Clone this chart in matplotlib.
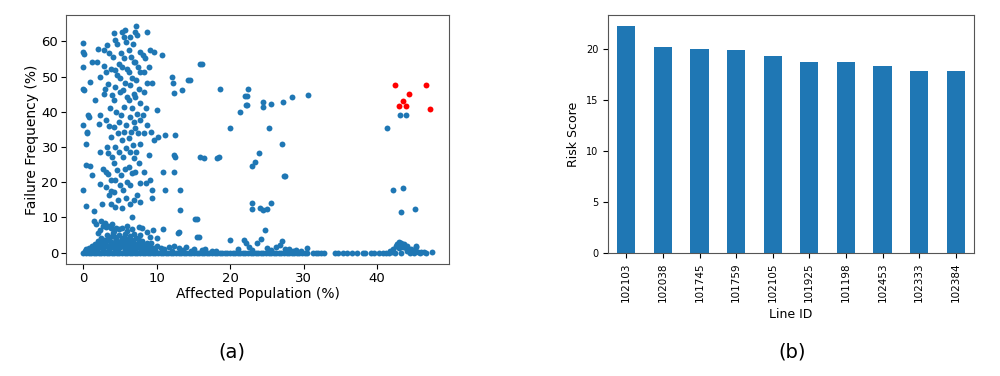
import matplotlib.pyplot as plt

# (a) scatter: affected population (%) vs failure frequency (%)
upper_pts = [
    (0.0, 59.7), (0.0, 56.9), (0.1, 56.5), (0.0, 52.8), (0.0, 46.6), (0.05, 46.1), (0.0, 36.4),
    (0.3, 31.0), (0.3, 25.0), (0.0, 17.8), (0.4, 13.3), (0.6, 39.0), (0.7, 38.5), (0.5, 34.3),
    (0.95, 24.5), (0.5, 34.0),
    (1.2, 54.1), (0.95, 48.5), (1.6, 43.3), (1.2, 22.0), (1.5, 11.8), (1.8, 54.2),
    (1.95, 57.9), (2.3, 50.0), (2.2, 39.0), (2.1, 36.5), (2.3, 28.7), (2.6, 23.9), (2.3, 19.5),
    (2.5, 13.8), (2.8, 57.7), (2.85, 53.0), (2.8, 45.2), (3.0, 46.5),
    (3.2, 58.9), (3.45, 56.8), (3.7, 52.3), (3.1, 51.4), (3.3, 48.0), (3.9, 44.7), (3.6, 41.0),
    (3.1, 37.7), (3.45, 36.0), (3.7, 32.9), (3.2, 30.0), (3.3, 28.2), (3.9, 27.2), (3.1, 22.8),
    (3.7, 20.6), (3.1, 18.7), (3.5, 16.4), (3.3, 22.4), (3.8, 17.4), (3.75, 13.8),
    (4.1, 62.3), (4.35, 60.4), (4.6, 59.4), (4.0, 55.6), (4.8, 53.7), (4.35, 51.8), (4.6, 50.4),
    (4.35, 47.1), (4.95, 45.7), (4.1, 43.3), (4.5, 40.0), (4.8, 37.2), (4.2, 35.8), (4.65, 33.9),
    (4.35, 30.1), (4.8, 28.7), (4.1, 25.4), (4.6, 23.5), (4.35, 20.6), (4.95, 19.2), (4.1, 17.3),
    (4.65, 14.9), (4.35, 13.1),
    (5.25, 62.7), (5.7, 63.2), (5.5, 61.3), (5.85, 59.9), (5.1, 56.6), (5.55, 55.2), (5.3, 52.8),
    (5.95, 52.3), (5.0, 49.5), (5.7, 48.1), (5.4, 46.2), (5.95, 44.3), (5.55, 41.4), (5.1, 39.1),
    (5.85, 36.2), (5.5, 34.3), (5.25, 32.0), (5.85, 29.6), (5.4, 27.2), (5.7, 23.9), (5.1, 22.0),
    (5.95, 20.2), (5.4, 17.8), (5.85, 15.4), (5.25, 12.6),
    (6.3, 61.3), (6.75, 59.4), (6.15, 57.5), (6.5, 55.6), (6.85, 54.2), (6.2, 51.4), (6.65, 49.5),
    (6.4, 47.6), (6.85, 45.2), (6.15, 43.3), (6.6, 41.0), (6.3, 38.6), (6.85, 37.2), (6.5, 34.3),
    (6.2, 32.5), (6.75, 30.6), (6.4, 28.7), (6.85, 26.8), (6.2, 24.4), (6.65, 22.5), (6.4, 19.2),
    (6.85, 14.9), (6.3, 13.8), (6.6, 10.2),
    (7.1, 64.3), (7.05, 62.7), (7.3, 61.8), (7.65, 57.0), (7.05, 54.2), (7.4, 52.8), (7.75, 51.4),
    (7.2, 49.0), (7.5, 46.6), (7.05, 44.3), (7.75, 42.4), (7.3, 39.5), (7.65, 37.7), (7.05, 35.3),
    (7.4, 33.9), (7.75, 31.0), (7.2, 28.7), (7.5, 25.4), (7.05, 23.0), (7.75, 19.7), (7.3, 16.4),
    (7.65, 14.5),
    (8.65, 62.7), (8.1, 56.1), (8.4, 55.2), (8.9, 52.8), (8.2, 51.4), (8.65, 48.1), (8.2, 45.7),
    (8.55, 41.0), (8.1, 39.1), (8.65, 36.2), (8.3, 33.9), (8.9, 27.7), (8.2, 23.0), (8.55, 19.7),
    (9.1, 57.5), (9.55, 57.0), (9.3, 48.1), (9.2, 34.3), (9.55, 32.0), (9.0, 20.6), (9.3, 17.8),
    (9.3, 15.4),
    (10.0, 40.5), (10.7, 56.1), (10.2, 32.9), (11.1, 33.4), (10.9, 23.0), (11.1, 17.8), (12.0, 50.0),
    (12.2, 48.1), (12.3, 45.4), (12.3, 27.7), (12.5, 27.2), (12.3, 23.0),
    (12.5, 33.4), (13.2, 17.8), (13.2, 12.1), (13.4, 46.2), (14.3, 49.0), (14.5, 49.0), (12.95, 6.0),
    (15.9, 53.5), (16.1, 53.5), (15.9, 27.2), (16.4, 26.8), (15.2, 9.7), (15.4, 9.7), (15.4, 4.5),
    (15.8, 4.5),
    (18.4, 27.2), (18.2, 27.0), (18.6, 46.6), (20.0, 35.3), (19.9, 3.6),
    (21.3, 39.9), (22.0, 44.5), (22.3, 44.5), (22.15, 41.9), (22.3, 41.9), (22.45, 46.4),
    (22.9, 24.7), (23.4, 25.8), (23.95, 28.2), (22.9, 14.2), (22.9, 12.3), (24.05, 12.6),
    (24.5, 12.1), (24.7, 6.4), (24.5, 41.4), (24.5, 42.9), (25.3, 35.3),
    (24.95, 12.3), (25.6, 42.2), (25.6, 14.0), (27.2, 42.9), (27.1, 31.0), (27.3, 21.8),
    (27.5, 21.8), (28.4, 44.3), (30.6, 44.7),
    (41.3, 35.3), (42.2, 17.8), (43.45, 18.4), (43.3, 11.6), (45.1, 12.3), (43.1, 39.1),
    (43.9, 39.1), (45.3, 1.7),
]

low_pts = [
    (0.2, 0.5), (0.4, 1.0), (0.6, 0.3), (0.8, 1.2), (1.0, 0.6), (1.2, 1.8), (1.4, 0.9), (1.6, 2.5),
    (1.8, 1.3), (2.0, 3.2), (2.2, 2.0), (2.4, 4.1), (2.6, 1.5), (2.8, 3.6), (3.0, 2.4), (3.2, 5.1),
    (3.4, 1.8), (3.6, 4.4), (3.8, 2.9), (4.0, 5.6), (4.2, 1.2), (4.4, 3.8), (4.6, 2.2), (4.8, 4.9),
    (5.0, 1.6), (5.2, 3.3), (5.4, 2.6), (5.6, 5.3), (5.8, 1.4), (6.0, 3.9), (6.2, 2.1), (6.4, 4.6),
    (6.6, 1.1), (6.8, 3.1), (7.0, 2.4), (7.2, 4.2), (7.4, 1.7), (7.6, 2.8), (7.8, 0.9), (8.0, 3.4),
    (8.2, 1.5), (8.4, 2.2), (8.6, 0.7), (8.8, 1.8), (9.0, 1.1), (9.2, 2.6), (9.4, 0.6), (9.6, 1.4),
    (9.8, 0.8), (10.0, 1.9),
    (1.1, 0.4), (1.5, 1.5), (1.9, 0.8), (2.3, 2.8), (2.7, 0.9), (3.1, 3.4), (3.5, 1.1), (3.9, 2.0),
    (4.3, 4.5), (4.7, 0.8), (5.1, 2.7), (5.5, 4.1), (5.9, 2.5), (6.3, 0.9), (6.7, 2.9), (7.1, 1.2),
    (7.5, 3.5), (7.9, 2.0), (8.3, 0.5), (8.7, 2.7), (9.1, 1.6), (9.5, 0.4), (2.5, 1.2), (3.3, 0.6),
    (4.1, 2.6), (4.9, 3.1), (5.7, 0.7), (6.5, 2.4),
    (1.3, 1.1), (1.7, 0.6), (2.1, 1.6), (2.9, 1.9), (3.7, 3.0), (4.5, 1.4), (5.3, 1.9), (6.1, 1.5),
    (6.9, 1.8), (7.7, 1.3), (8.5, 1.2), (9.3, 0.9), (3.6, 2.2), (4.4, 2.3), (5.2, 4.3), (6.0, 2.9),
    (2.6, 2.9), (3.4, 3.9), (4.6, 3.3), (5.8, 3.6), (6.6, 3.7), (7.3, 2.5), (8.1, 2.4), (8.9, 1.4),
    (1.5, 9.0), (1.7, 8.2), (2.4, 8.9), (2.6, 7.7), (2.9, 8.4), (3.1, 7.3), (3.4, 7.5), (3.7, 6.9),
    (2.2, 6.5), (4.5, 6.9), (4.9, 6.6), (5.3, 7.0), (6.0, 6.2), (6.6, 6.8), (7.5, 7.3), (8.0, 7.1),
    (8.6, 6.0), (9.0, 4.4), (9.5, 6.4), (10.0, 4.1), (3.9, 8.0), (4.2, 6.2), (5.9, 7.6), (2.0, 5.6),
    (6.9, 5.4), (7.7, 5.0),
    (10.5, 1.4), (10.8, 6.6), (11.0, 0.9), (11.6, 1.6), (12.0, 0.6), (12.4, 1.9), (12.9, 5.5),
    (13.0, 1.2), (13.5, 0.8), (14.0, 1.5), (14.6, 0.5), (15.0, 1.1), (16.2, 0.7), (16.6, 1.0),
    (17.5, 0.4), (18.0, 0.6), (21.0, 1.0), (21.9, 3.6), (22.2, 2.6), (22.6, 1.5), (23.0, 0.8),
    (23.6, 2.7), (24.2, 3.9), (25.0, 1.2), (25.6, 0.8), (26.2, 1.5), (26.8, 2.2), (27.1, 3.4),
    (27.5, 0.9), (28.0, 1.1), (28.5, 0.5), (29.0, 0.7), (30.4, 1.2), (29.6, 0.4),
    (41.8, 0.5), (42.2, 1.0), (42.5, 1.8), (42.7, 2.5), (42.9, 3.0), (43.1, 2.2), (43.3, 2.8),
    (43.5, 1.6), (43.7, 2.4), (43.9, 1.2), (44.1, 1.8), (44.3, 0.9), (44.6, 1.1), (45.0, 0.6),
    (45.3, 2.0), (42.0, 0.3), (43.0, 1.4), (44.0, 0.5), (44.8, 0.4), (45.6, 0.3), (46.0, 0.2),
    (46.4, 0.1), (47.4, 0.1),
]

# lines that never failed (failure frequency 0)
zero_pop = [
    0.0, 0.35, 0.7, 1.05, 1.4, 1.75, 2.1, 2.45, 2.8, 3.15, 3.5, 3.85, 4.2, 4.55, 4.9, 5.25, 5.6,
    5.95, 6.3, 6.65, 7.0, 7.35, 7.7, 8.05, 8.4, 8.75, 9.1, 9.45, 9.8, 10.15, 10.5, 10.85, 11.2,
    11.55, 11.9, 12.25, 12.6, 12.95, 13.3, 13.65, 14.0, 14.35, 14.7, 15.05, 15.4, 15.75, 16.1,
    16.45, 16.8, 17.15, 17.5, 17.85, 18.2, 18.55, 18.9, 19.25, 19.6, 19.95, 20.3, 20.65, 21.0,
    21.35, 21.7, 22.05, 22.4, 22.75, 23.1, 23.45, 23.8, 24.15, 24.5, 24.85, 25.2, 25.55, 25.9,
    26.25, 26.6, 26.95, 27.3, 27.65, 28.0, 28.35, 28.7, 29.05, 29.4, 29.75, 30.1, 30.5, 31.3,
    31.6, 32.0, 32.3, 32.7, 34.2, 34.6, 35.4, 35.9, 36.5, 37.3, 38.0, 38.4, 39.2, 39.6, 40.2,
    40.8, 41.2, 41.6, 42.4, 43.2, 44.4, 45.0, 45.8, 46.6,
]

# highlighted high-risk lines (red)
top_pop = [42.4, 46.6, 44.3, 43.5, 43.0, 43.9, 47.2]
top_freq = [47.7, 47.7, 45.0, 43.1, 41.6, 41.8, 40.9]

# (b) top 10 risk scores
line_ids = ['102103', '102038', '101745', '101759', '102105',
            '101925', '101198', '102453', '102333', '102384']
risk_scores = [22.2, 20.15, 20.0, 19.9, 19.28, 18.75, 18.75, 18.3, 17.8, 17.8]

blue = '#1f77b4'

fig = plt.figure(figsize=(10, 3.76), dpi=100)

ax1 = fig.add_axes([0.066, 0.298, 0.383, 0.662])
px = [p[0] for p in upper_pts + low_pts] + zero_pop
py = [p[1] for p in upper_pts + low_pts] + [0.0 for _ in zero_pop]
ax1.scatter(px, py, s=18, color=blue, linewidths=0)
ax1.scatter(top_pop, top_freq, s=18, color='red', linewidths=0)
ax1.set_xlabel('Affected Population (%)', fontsize=10, labelpad=2)
ax1.set_ylabel('Failure Frequency (%)', fontsize=10, labelpad=2)
ax1.tick_params(labelsize=9.5, pad=2)
for sp in ax1.spines.values():
    sp.set_color('#555555')

ax2 = fig.add_axes([0.608, 0.327, 0.366, 0.633])
ax2.bar(range(len(line_ids)), risk_scores, width=0.5, color=blue)
ax2.set_xticks(range(len(line_ids)))
ax2.set_xticklabels(line_ids, rotation=90, fontsize=7.5)
ax2.set_xlim(-0.5, len(line_ids) - 0.5)
ax2.set_yticks([0, 5, 10, 15, 20])
ax2.tick_params(axis='y', labelsize=7)
ax2.set_xlabel('Line ID', fontsize=9)
ax2.set_ylabel('Risk Score', fontsize=9)
for sp in ax2.spines.values():
    sp.set_color('#555555')

fig.text(0.232, 0.05, '(a)', fontsize=14, ha='center')
fig.text(0.792, 0.05, '(b)', fontsize=14, ha='center')

fig.savefig('out.png', dpi=100)
